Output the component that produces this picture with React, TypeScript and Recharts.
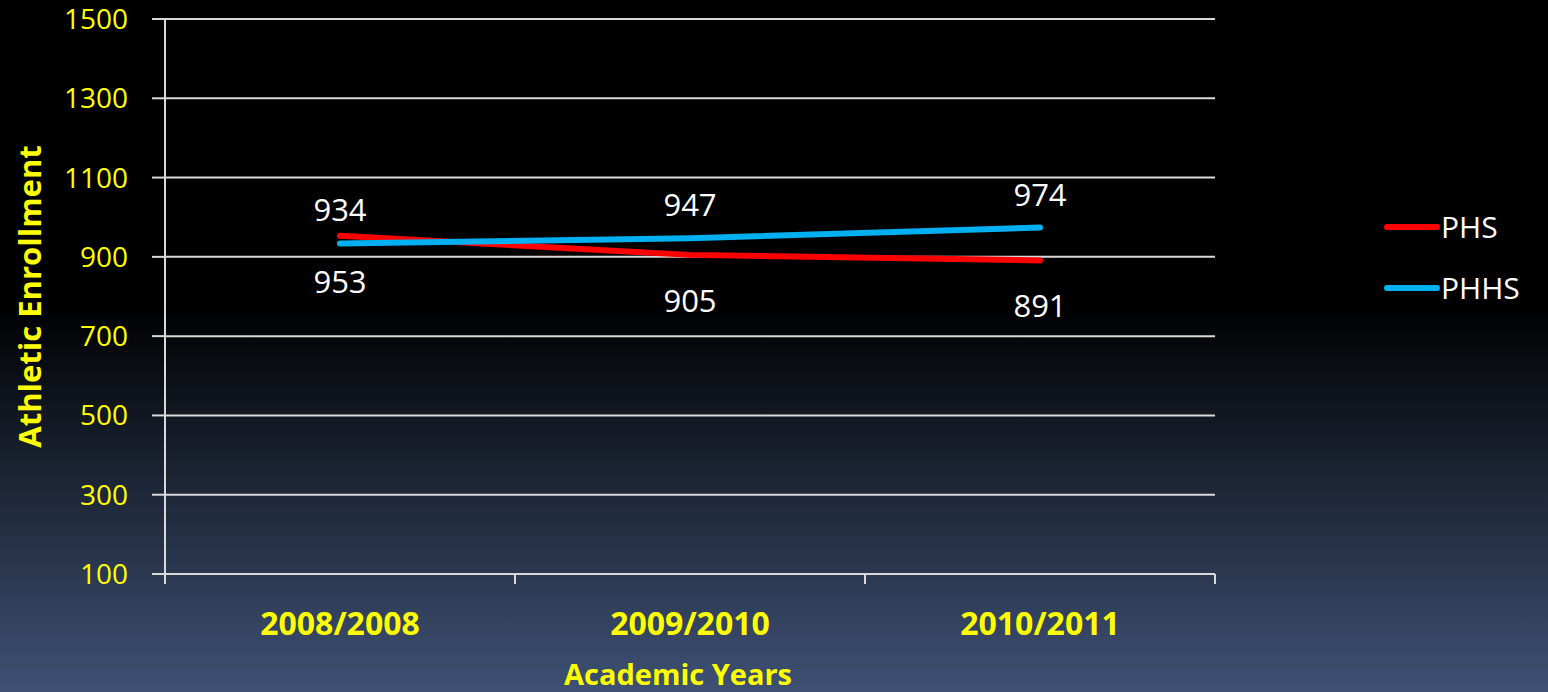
import React from "react";
import { ComposedChart, Line, XAxis, YAxis, CartesianGrid, LabelList } from "recharts";

const categories = ["2008/2008", "2009/2010", "2010/2011"];
const phs = [953, 905, 891];
const phhs = [934, 947, 974];
const yTicks = [100, 300, 500, 700, 900, 1100, 1300, 1500];

const series = [
  { key: "PHS", name: "PHS", color: "#ff0000", values: phs, above: false },
  { key: "PHHS", name: "PHHS", color: "#00b0f0", values: phhs, above: true },
];

const data = categories.map((c, i) => ({ x: i + 0.5, year: c, PHS: phs[i], PHHS: phhs[i] }));
const xTicks = [0, 0.5, 1, 1.5, 2, 2.5, 3];

const font = "'Open Sans', 'Noto Sans', sans-serif";
const yellow = "#ffff00";
const lineColor = "#d9d9d9";

const XTick = (props: any) => {
  const { x, y, payload } = props;
  const v = payload.value;
  if (Number.isInteger(v)) {
    return <line x1={x} x2={x} y1={y - 10} y2={y} stroke={lineColor} strokeWidth={2} />;
  }
  return (
    <text x={x} y={y + 38} textAnchor="middle" dominantBaseline="central" fill={yellow}
      fontFamily={font} fontWeight="bold" fontSize={32}>
      {categories[Math.floor(v)]}
    </text>
  );
};

const makeLabel = (above: boolean) => (props: any) => {
  const { x, y, value } = props;
  return (
    <text x={x} y={above ? y - 34 : y + 45} textAnchor="middle" dominantBaseline="central"
      fill="#ffffff" fontFamily={font} fontSize={31}>
      {value}
    </text>
  );
};

export default function App() {
  return (
    <div style={{
      position: "fixed", left: 0, top: 0, width: 1548, height: 692,
      background: "linear-gradient(to bottom, #000000 0%, #000000 44%, #3e5174 100%)",
      fontFamily: font,
    }}>
      <ComposedChart width={1548} height={692} data={data}
        margin={{ top: 19, right: 333, bottom: 0, left: 0 }}>
        <CartesianGrid vertical={false} stroke={lineColor} strokeWidth={2} />
        <XAxis dataKey="x" type="number" domain={[0, 3]} ticks={xTicks} interval={0}
          height={118} tickSize={10} tickMargin={0} tickLine={false}
          axisLine={{ stroke: lineColor, strokeWidth: 2 }} tick={<XTick />}
          label={{ value: "Academic Years", position: "insideBottom", offset: 7, dx: -12, fill: yellow,
            fontSize: 29, fontWeight: "bold", fontFamily: font }} />
        <YAxis domain={[100, 1500]} ticks={yTicks} width={165} tickSize={13} tickMargin={24}
          interval={0}
          tickLine={{ stroke: lineColor, strokeWidth: 2 }} axisLine={{ stroke: lineColor, strokeWidth: 2 }}
          tick={{ fill: yellow, fontSize: 28, fontFamily: font }}
          label={{ value: "Athletic Enrollment", angle: -90, position: "insideLeft", offset: 30,
            fill: yellow, fontSize: 31, fontWeight: "bold", fontFamily: font, style: { textAnchor: "middle" } }} />
        {series.map((s) => (
          <Line key={s.key} dataKey={s.key} name={s.name} type="linear" stroke={s.color}
            strokeWidth={6} strokeLinecap="round" dot={false} activeDot={false}
            isAnimationActive={false}>
            <LabelList dataKey={s.key} content={makeLabel(s.above)} />
          </Line>
        ))}
      </ComposedChart>
      <div style={{ position: "absolute", left: 1383, top: 196 }}>
        {series.map((s) => (
          <div key={s.key} style={{ display: "flex", alignItems: "center", height: 61 }}>
            <svg width={58} height={8} style={{ marginRight: 0 }}>
              <line x1={4} x2={54} y1={4} y2={4} stroke={s.color} strokeWidth={6} strokeLinecap="round" />
            </svg>
            <span style={{ color: "#ffffff", fontSize: 30, fontFamily: font }}>{s.name}</span>
          </div>
        ))}
      </div>
    </div>
  );
}
